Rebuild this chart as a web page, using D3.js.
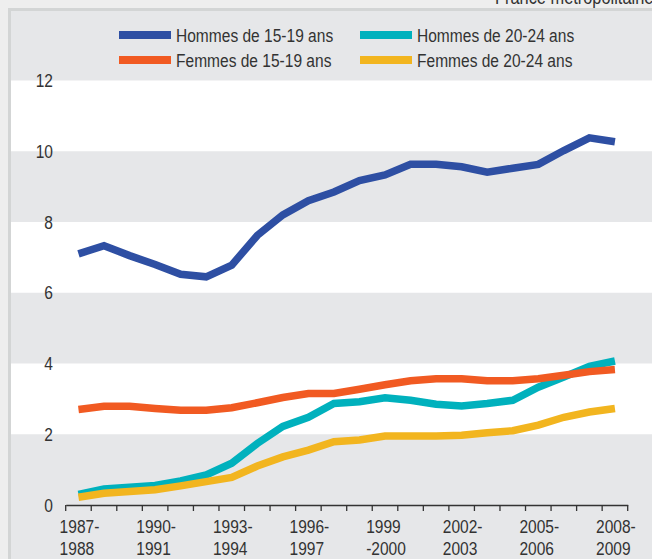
<!DOCTYPE html>
<html><head><meta charset="utf-8">
<script src="https://cdn.jsdelivr.net/npm/d3@7"></script>
<style>
html,body{margin:0;padding:0;background:#eeeeee;}
svg{display:block;}
text{font-family:"Liberation Sans",Arial,sans-serif;fill:#333;}
</style></head>
<body>
<script>
const categories = ["1987-1988","1988-1989","1989-1990","1990-1991","1991-1992","1992-1993","1993-1994","1994-1995","1995-1996","1996-1997","1997-1998","1998-1999","1999-2000","2000-2001","2001-2002","2002-2003","2003-2004","2004-2005","2005-2006","2006-2007","2007-2008","2008-2009"];
const tickLabels = {"1987-1988":["1987-","1988"],"1990-1991":["1990-","1991"],"1993-1994":["1993-","1994"],"1996-1997":["1996-","1997"],"1999-2000":["1999","-2000"],"2002-2003":["2002-","2003"],"2005-2006":["2005-","2006"],"2008-2009":["2008-","2009"]};
const yTicks = [0,2,4,6,8,10,12];
const hommes1519 = [7.1,7.33,7.05,6.8,6.52,6.45,6.78,7.62,8.2,8.6,8.85,9.17,9.33,9.63,9.63,9.56,9.41,9.52,9.63,10.02,10.38,10.27];
const hommes2024 = [0.3,0.45,0.5,0.55,0.68,0.85,1.18,1.74,2.22,2.48,2.87,2.92,3.03,2.96,2.85,2.8,2.87,2.96,3.33,3.62,3.92,4.07];
const femmes1519 = [2.7,2.79,2.79,2.73,2.68,2.68,2.75,2.89,3.04,3.15,3.15,3.27,3.4,3.51,3.57,3.57,3.51,3.51,3.57,3.67,3.77,3.83];
const femmes2024 = [0.22,0.33,0.38,0.43,0.54,0.66,0.78,1.1,1.36,1.55,1.79,1.84,1.95,1.95,1.95,1.97,2.04,2.1,2.26,2.48,2.63,2.73];
const seriesNames = ["Hommes de 15-19 ans","Hommes de 20-24 ans","Femmes de 15-19 ans","Femmes de 20-24 ans"];
const seriesValues = [hommes1519, hommes2024, femmes1519, femmes2024];
const colors = ["#2e4fa3","#00b1bd","#f15a22","#f2b51f"];

const W = 652, H = 559;
const SX = 0.84; // narrow font emulation
const svg = d3.select("body").append("svg").attr("width",W).attr("height",H);

function addText(parent, x, y, str, size, anchor, dy){
  const t = parent.append("text")
    .attr("transform",`translate(${x},${y}) scale(${SX},1)`)
    .attr("font-size",size).attr("text-anchor",anchor||"start").text(str);
  if(dy) t.attr("dy",dy);
  return t;
}

// frame
svg.append("rect").attr("x",9.5).attr("y",9.5).attr("width",W).attr("height",H)
  .attr("fill","#e6e7e9").attr("stroke","#d3d5d5").attr("stroke-width",3);

addText(svg, 495, 3.5, "France métropolitaine", 19.5);

const x = d3.scaleBand().domain(categories).range([65.7,627.7]);
const y = d3.scaleLinear().domain([0,12]).range([505,80.5]);

// white bands
const bands = [[10,12],[6,8],[2,4]];
svg.append("g").selectAll("rect").data(bands).join("rect")
  .attr("x",11).attr("width",W-11)
  .attr("y",d=>y(d[1])).attr("height",d=>y(d[0])-y(d[1]))
  .attr("fill","#ffffff");

// y labels
const yg = svg.append("g");
yTicks.forEach(v=>addText(yg, 53, y(v), String(v), 18.5, "end", "0.36em"));

// x axis
const xAxis = d3.axisBottom(x).tickSize(0).tickFormat("");
const gx = svg.append("g").attr("transform",`translate(0,${y(0)})`).call(xAxis);
gx.select(".domain").attr("stroke","#333").attr("stroke-width",1.5);
const bounds = categories.map(c=>x(c)).concat([x.range()[1]]);
gx.selectAll("line.tk").data(bounds).join("line").attr("class","tk")
  .attr("x1",d=>d).attr("x2",d=>d).attr("y1",0).attr("y2",6)
  .attr("stroke","#333").attr("stroke-width",1.3);

const labG = svg.append("g");
categories.filter(c=>tickLabels[c]).forEach(c=>{
  const cx = x(c)+x.bandwidth()/2;
  const lines = tickLabels[c];
  const ts = lines.map((l,i)=>addText(labG, 0, [533,555][i], l, 18.5));
  const mw = d3.max(ts, t=>t.node().getComputedTextLength())*SX;
  ts.forEach((t,i)=>t.attr("transform",`translate(${cx-mw/2+1},${[533,555][i]}) scale(${SX},1)`));
});

// lines
const line = d3.line().x((d,i)=>x(categories[i])+x.bandwidth()/2).y(d=>y(d));
svg.append("g").selectAll("path").data(seriesValues).join("path")
  .attr("d",d=>line(d)).attr("fill","none")
  .attr("stroke",(d,i)=>colors[i]).attr("stroke-width",7.5)
  .attr("stroke-linejoin","miter").attr("stroke-linecap","butt");

// legend
const leg = svg.append("g");
const legPos = [[119,35],[360,35],[119,60],[360,60]];
seriesNames.forEach((n,i)=>{
  const [lx,ly] = legPos[i];
  leg.append("rect").attr("x",lx).attr("y",ly-4).attr("width",52).attr("height",8).attr("fill",colors[i]);
  addText(leg, lx+57, ly, n, 18.5, "start", "0.36em");
});
</script>
</body></html>
